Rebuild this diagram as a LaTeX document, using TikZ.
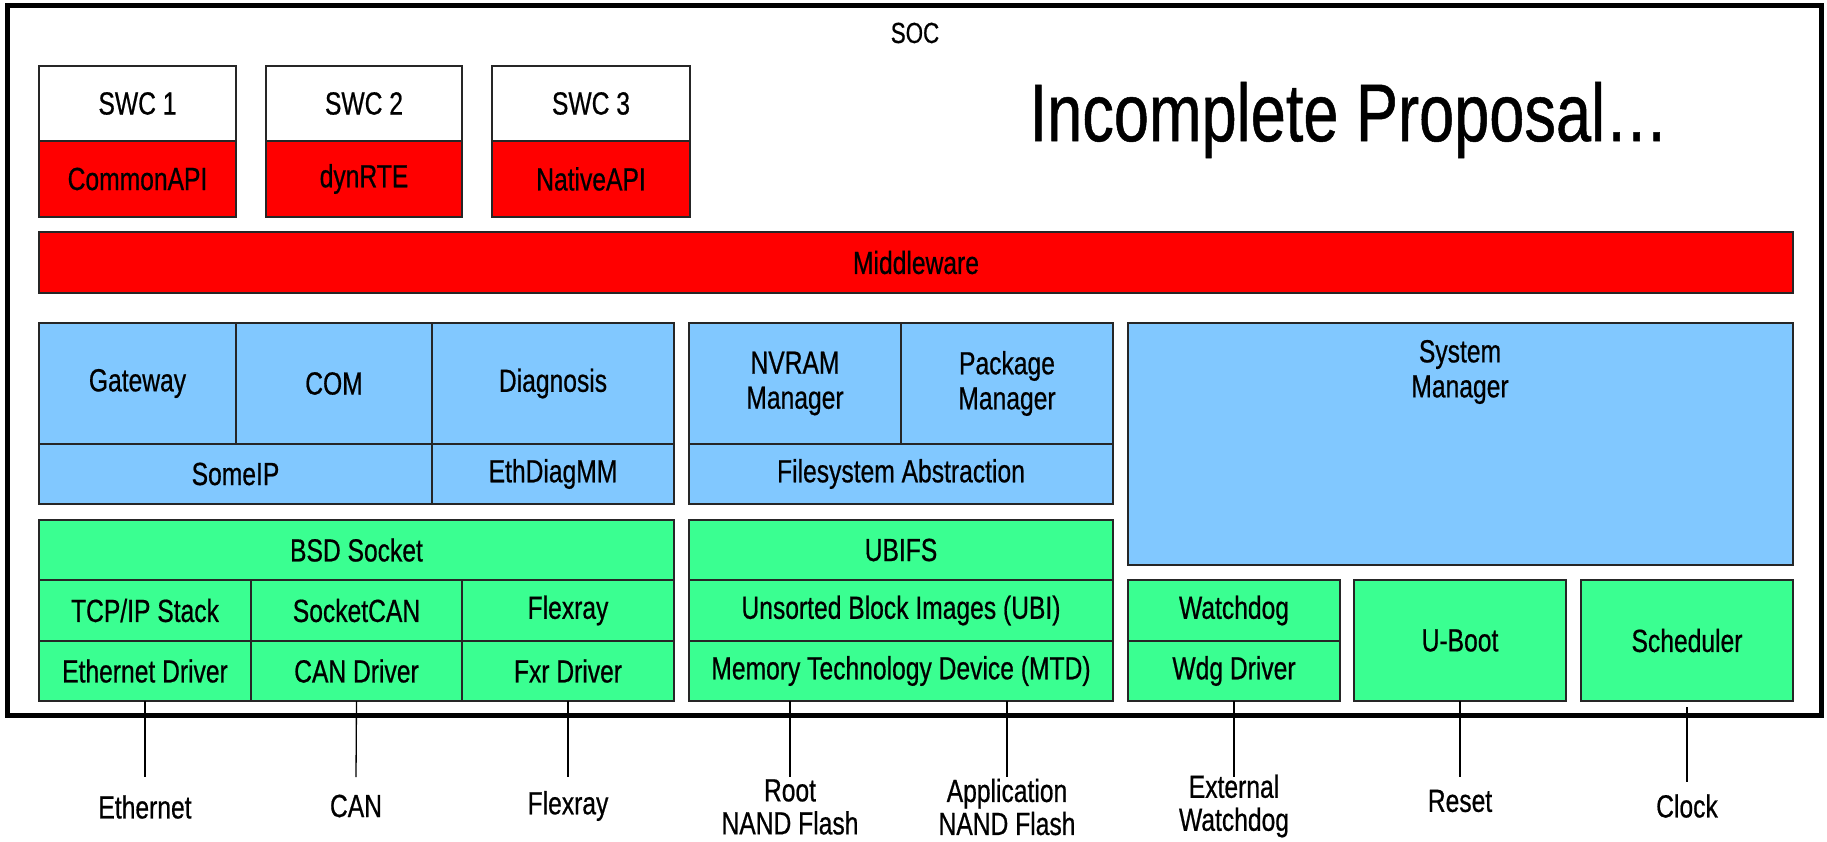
\documentclass[tikz,border=0pt]{standalone}
\usepackage{fontspec}
\setmainfont{Liberation Sans}[FakeStretch=0.77, FakeBold=0.6]
\definecolor{mwred}{RGB}{255,0,0}
\definecolor{svcblue}{RGB}{129,200,255}
\definecolor{drvgreen}{RGB}{58,255,145}
\newcommand\lbl{\fontsize{32}{35}\selectfont}
\newcommand\pinlbl{\fontsize{32}{33}\selectfont}
% layer box: name, x1, y1, x2, y2, fill, text
\newcommand\layerbox[7]{%
  \node[blk, fill=#6, minimum width={(#4-#2)*1pt}, minimum height={(#5-#3)*1pt}]
    (#1) at ({(#2+#4)/2},{(#3+#5)/2}) {#7};}
\begin{document}
\begin{tikzpicture}[x=1pt,y=-1pt,
  blk/.style={draw=black!85, line width=1.3pt, inner sep=0pt, outer sep=0pt, align=center, font=\lbl},
  wire/.style={draw=black, line width=1.3pt},
  pin/.style={align=center, font=\pinlbl, inner sep=0pt}]
\useasboundingbox (0,0) rectangle (1827,842);

% SOC frame
\node[draw=black, line width=5pt, minimum width=1814pt, minimum height=709pt, inner sep=0pt] (soc) at (914,360.5) {};
\node[font=\fontsize{29}{32}\selectfont, inner sep=0pt] (soclbl) at (915,33) {SOC};
\node[font=\fontsize{82}{90}\selectfont, inner sep=0pt] (title) at (1349,120) {Incomplete Proposal…};

% software components
\layerbox{swc1}{39}{66}{236}{141}{white}{SWC 1}
\layerbox{capi}{39}{141}{236}{217}{mwred}{CommonAPI}
\layerbox{swc2}{266}{66}{462}{141}{white}{SWC 2}
\layerbox{dynrte}{266}{141}{462}{217}{mwred}{dynRTE}
\layerbox{swc3}{492}{66}{690}{141}{white}{SWC 3}
\layerbox{napi}{492}{141}{690}{217}{mwred}{NativeAPI}
\layerbox{mw}{39}{232}{1793}{293}{mwred}{Middleware}

% services
\layerbox{gw}{39}{323}{236}{444}{svcblue}{Gateway}
\layerbox{com}{236}{323}{432}{444}{svcblue}{COM}
\layerbox{diag}{432}{323}{674}{444}{svcblue}{Diagnosis}
\layerbox{someip}{39}{444}{432}{504}{svcblue}{SomeIP}
\layerbox{ethdiag}{432}{444}{674}{504}{svcblue}{EthDiagMM}
\layerbox{nvram}{689}{323}{901}{444}{svcblue}{NVRAM\\Manager}
\layerbox{pkg}{901}{323}{1113}{444}{svcblue}{Package\\Manager}
\layerbox{fsabs}{689}{444}{1113}{504}{svcblue}{Filesystem Abstraction}
\layerbox{sysmgr}{1128}{323}{1793}{565}{svcblue}{}
\node[pin, font=\lbl] (sysmgrtxt) at (1460,372) {System\\Manager};

% drivers
\layerbox{bsd}{39}{520}{674}{580}{drvgreen}{BSD Socket}
\layerbox{tcp}{39}{580}{251}{641}{drvgreen}{TCP/IP Stack}
\layerbox{scan}{251}{580}{462}{641}{drvgreen}{SocketCAN}
\layerbox{fxr}{462}{580}{674}{641}{drvgreen}{Flexray}
\layerbox{ethdrv}{39}{641}{251}{701}{drvgreen}{Ethernet Driver}
\layerbox{candrv}{251}{641}{462}{701}{drvgreen}{CAN Driver}
\layerbox{fxrdrv}{462}{641}{674}{701}{drvgreen}{Fxr Driver}
\layerbox{ubifs}{689}{520}{1113}{580}{drvgreen}{UBIFS}
\layerbox{ubi}{689}{580}{1113}{641}{drvgreen}{Unsorted Block Images (UBI)}
\layerbox{mtd}{689}{641}{1113}{701}{drvgreen}{Memory Technology Device (MTD)}
\layerbox{wdg}{1128}{580}{1340}{641}{drvgreen}{Watchdog}
\layerbox{wdgdrv}{1128}{641}{1340}{701}{drvgreen}{Wdg Driver}
\layerbox{uboot}{1354}{580}{1566}{701}{drvgreen}{U-Boot}
\layerbox{sched}{1581}{580}{1793}{701}{drvgreen}{Scheduler}

% external pins
\node[pin] (pEth) at (145,807) {Ethernet};
\node[pin] (pCan) at (356,806) {CAN};
\node[pin] (pFxr) at (568,806) {Flexray};
\node[pin] (pRoot) at (790,807) {Root\\NAND Flash};
\node[pin] (pApp) at (1007,807) {Application\\NAND Flash};
\node[pin] (pWdg) at (1234,806) {External\\Watchdog};
\node[pin] (pRst) at (1460,801) {Reset};
\node[pin] (pClk) at (1687,806) {Clock};

\coordinate (eEth) at (pEth |- 0,777);
\coordinate (eCan) at (pCan |- 0,777);
\coordinate (eFxr) at (pFxr |- 0,777);
\coordinate (eRoot) at (pRoot |- 0,777);
\coordinate (eApp) at (pApp |- 0,777);
\coordinate (eWdg) at (pWdg |- 0,777);
\coordinate (eRst) at (pRst |- 0,777);
\coordinate (eClk) at (pClk |- 0,782);

\draw[wire] (ethdrv.south) -- (eEth);
\draw[wire] (candrv.south) -- (eCan);
\draw[wire] (fxrdrv.south) -- (eFxr);
\draw[wire] (pRoot |- mtd.south) -- (eRoot);
\draw[wire] (pApp |- mtd.south) -- (eApp);
\draw[wire] (wdgdrv.south) -- (eWdg);
\draw[wire] (uboot.south) -- (eRst);
\draw[wire, shorten <=6pt] (sched.south) -- (eClk);
\end{tikzpicture}
\end{document}
